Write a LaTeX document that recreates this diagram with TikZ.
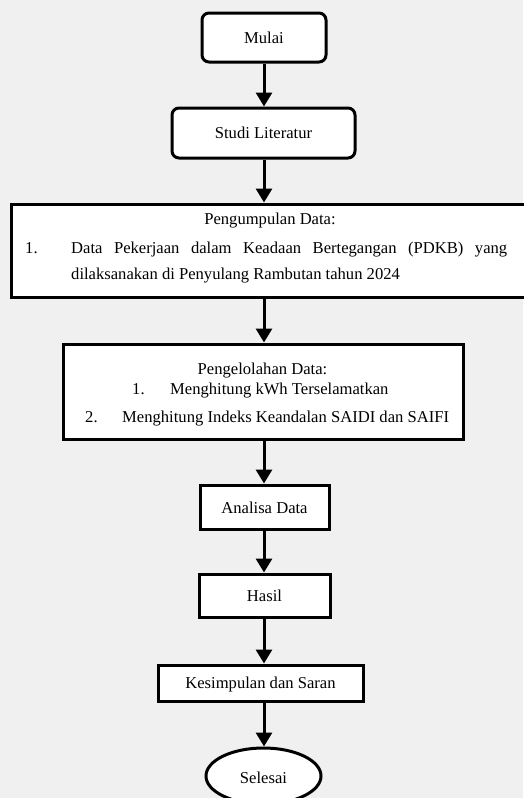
\documentclass[tikz,border=0pt]{standalone}
\usepackage{fontspec}
\setmainfont{Liberation Serif}
\usetikzlibrary{arrows.meta,shapes.geometric}
\definecolor{bgc}{HTML}{F0F0F0}
\tikzset{
  box/.style={draw=black, line width=3pt, fill=white, inner sep=0pt, rectangle},
  rbox/.style={box, rounded corners=7pt},
  ebox/.style={draw=black, line width=3pt, fill=white, inner sep=0pt, ellipse},
  txt/.style={inner sep=0pt, font=\fontsize{16.6}{20}\selectfont},
  arr/.style={line width=3pt, -{Triangle[length=14pt,width=16pt]}},
}
\begin{document}
\begin{tikzpicture}[x=1pt,y=-1pt]
\fill[bgc] (0,0) rectangle (523,798);
\useasboundingbox (0,0) rectangle (523,798);

\node[rbox, minimum width=124pt, minimum height=49pt] (mulai) at (264,37.5) {};
\node[txt] (tmulai) at (264,38) {Mulai};

\node[rbox, minimum width=183pt, minimum height=50pt] (studi) at (263.5,133) {};
\node[txt] (tstudi) at (263.5,133) {Studi Literatur};

\node[box, minimum width=524pt, minimum height=93pt] (peng) at (273,250.5) {};
\node[txt] (tpeng1) at (270,221) {Pengumpulan Data:};
\node[txt, anchor=mid west] (tpeng2n) at (25,251) {1.};
\node[txt, anchor=mid west] (tpeng2) at (71,251) {\makebox[436pt][s]{Data Pekerjaan dalam Keadaan Bertegangan (PDKB) yang}};
\node[txt, anchor=mid west] (tpeng3) at (71,277) {dilaksanakan di Penyulang Rambutan tahun 2024};

\node[box, minimum width=400pt, minimum height=95pt] (olah) at (263,391.5) {};
\node[txt] (tolah1) at (262.5,371) {Pengelolahan Data:};
\node[txt, anchor=mid west] (tolah2n) at (132,392) {1.};
\node[txt, anchor=mid west] (tolah2) at (170,392) {Menghitung kWh Terselamatkan};
\node[txt, anchor=mid west] (tolah3n) at (85,420) {2.};
\node[txt, anchor=mid west] (tolah3) at (122,420) {Menghitung Indeks Keandalan SAIDI dan SAIFI};

\node[box, minimum width=129pt, minimum height=44pt] (analisa) at (264.5,507) {};
\node[txt] (tanalisa) at (264.5,508) {Analisa Data};

\node[box, minimum width=131pt, minimum height=43pt] (hasil) at (264.5,595.5) {};
\node[txt] (thasil) at (264.5,596) {Hasil};

\node[box, minimum width=205pt, minimum height=36pt] (kes) at (260.5,683) {};
\node[txt] (tkes) at (260.5,684) {Kesimpulan dan Saran};

\node[ebox, minimum width=115pt, minimum height=56pt] (selesai) at (263.5,776) {};
\node[txt] (tselesai) at (263.5,778) {Selesai};

\draw[arr] (mulai.south) -- (mulai.south |- studi.north);
\draw[arr] (mulai.south |- studi.south) -- (mulai.south |- peng.north);
\draw[arr] (mulai.south |- peng.south) -- (mulai.south |- olah.north);
\draw[arr] (mulai.south |- olah.south) -- (mulai.south |- analisa.north);
\draw[arr] (mulai.south |- analisa.south) -- (mulai.south |- hasil.north);
\draw[arr] (mulai.south |- hasil.south) -- (mulai.south |- kes.north);
\draw[arr] (mulai.south |- kes.south) -- (mulai.south |- selesai.north);
\end{tikzpicture}
\end{document}
